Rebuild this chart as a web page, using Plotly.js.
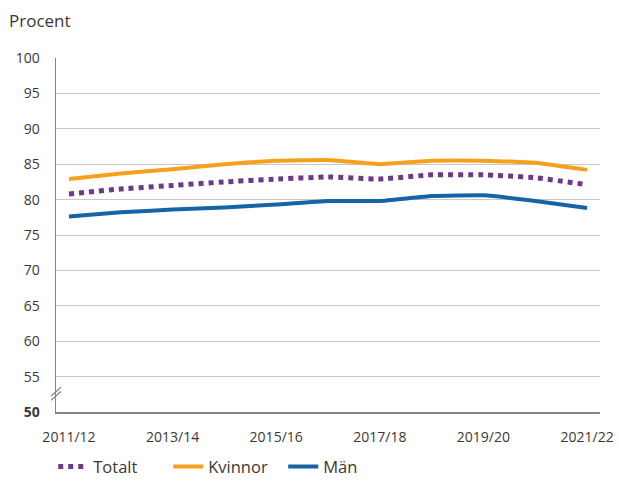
<!DOCTYPE html>
<html>
<head>
<meta charset="utf-8">
<script src="https://cdn.plot.ly/plotly-3.0.1.min.js"></script>
<style>html,body{margin:0;padding:0;background:#fff;}</style>
</head>
<body>
<div id="chart" style="width:619px;height:481px;"></div>
<script>
const years = ["2011/12","2012/13","2013/14","2014/15","2015/16","2016/17","2017/18","2018/19","2019/20","2020/21","2021/22"];
const totalt  = [80.8, 81.5, 82.0, 82.5, 82.9, 83.2, 82.9, 83.5, 83.5, 83.1, 82.1];
const kvinnor = [82.9, 83.7, 84.3, 85.0, 85.5, 85.6, 85.0, 85.5, 85.5, 85.2, 84.2];
const man     = [77.6, 78.2, 78.6, 78.9, 79.3, 79.8, 79.8, 80.5, 80.6, 79.8, 78.8];
const xTickVals = ["2011/12","2013/14","2015/16","2017/18","2019/20","2021/22"];
const yTickVals = [50,55,60,65,70,75,80,85,90,95,100];
const yTickText = ["<b>50</b>","55","60","65","70","75","80","85","90","95","100"];

const textColor = "#3b3834";
const traces = [
  {x: years, y: totalt, name: "Totalt", mode: "lines", line: {color: "#6f3a85", width: 5, dash: "dot", shape: "spline", smoothing: 0.3}},
  {x: years, y: kvinnor, name: "Kvinnor", mode: "lines", line: {color: "#f5a11c", width: 4, shape: "spline", smoothing: 0.3}},
  {x: years, y: man, name: "Män", mode: "lines", line: {color: "#1664a6", width: 4, shape: "spline", smoothing: 0.3}}
];
const layout = {
  width: 619, height: 481,
  margin: {l: 56, r: 19, t: 58, b: 69},
  paper_bgcolor: "#fff", plot_bgcolor: "#fff",
  font: {family: "Open Sans, sans-serif", size: 14, color: textColor},
  showlegend: true,
  legend: {orientation: "h", xref: "container", yref: "container", x: 0.086, xanchor: "left", y: 0.066, yanchor: "top",
           font: {size: 16.5, color: textColor}, itemwidth: 30, traceorder: "normal",
           entrywidth: 70, entrywidthmode: "pixels"},
  xaxis: {
    type: "category", range: [-0.25, 10.25],
    tickvals: xTickVals, ticktext: xTickVals,
    showgrid: false, zeroline: false,
    showline: true, linecolor: "#8c827c", linewidth: 1.5,
    ticks: "", ticklabelstandoff: 12,
    tickfont: {size: 14, color: textColor}
  },
  yaxis: {
    range: [50, 100], tickvals: yTickVals, ticktext: yTickText,
    showgrid: true, gridcolor: "#c8c8c8", gridwidth: 1,
    zeroline: false, showline: true, linecolor: "#8c827c", linewidth: 1.5,
    ticks: "", ticklabelstandoff: 12,
    tickfont: {size: 14, color: textColor}
  },
  annotations: [
    {text: "Procent", xref: "paper", yref: "paper", x: -0.09, y: 1.107, xanchor: "left", yanchor: "middle", showarrow: false, font: {size: 17, color: textColor}}
  ],
  shapes: [
    {type: "line", xref: "paper", yref: "paper", x0: -0.009, x1: 0.009, y0: 0.033, y1: 0.058, line: {color: "#8c827c", width: 1.2}},
    {type: "line", xref: "paper", yref: "paper", x0: -0.009, x1: 0.009, y0: 0.045, y1: 0.070, line: {color: "#8c827c", width: 1.2}}
  ]
};
Plotly.newPlot("chart", traces, layout, {displayModeBar: false, staticPlot: true});
</script>
</body>
</html>
